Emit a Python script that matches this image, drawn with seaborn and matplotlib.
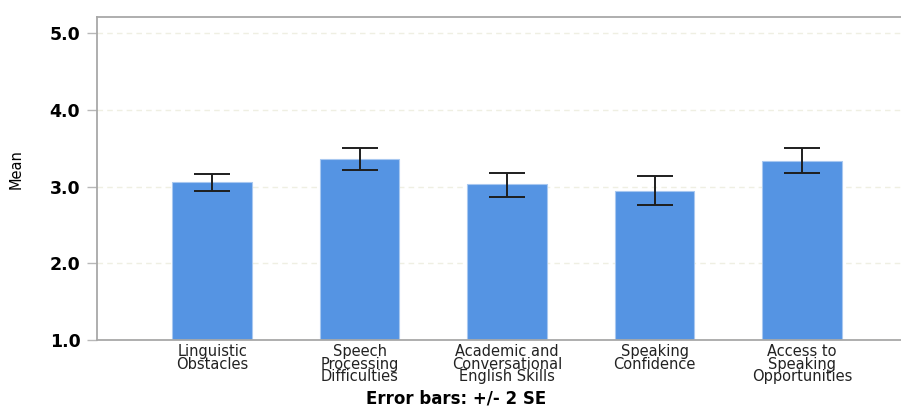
import numpy as np
import pandas as pd
import matplotlib
matplotlib.use("Agg")
import matplotlib.pyplot as plt
import seaborn as sns

# values
categories = ["Linguistic\nObstacles",
              "Speech\nProcessing\nDifficulties",
              "Academic and\nConversational\nEnglish Skills",
              "Speaking\nConfidence",
              "Access to\nSpeaking\nOpportunities"]
means = [3.06, 3.36, 3.03, 2.95, 3.34]
err_low = [2.95, 3.22, 2.87, 2.76, 3.18]
err_high = [3.17, 3.51, 3.18, 3.14, 3.50]

sns.set_style("white")
plt.rcParams["font.family"] = ["DejaVu Sans"]
plt.rcParams["text.color"] = "black"
plt.rcParams["axes.labelcolor"] = "black"

df = pd.DataFrame({"Scale": categories, "Mean": means})

fig = plt.figure(figsize=(9.01, 4.08), dpi=100)
ax = fig.add_axes([0.1077, 0.1667, 0.8923, 0.7916])

sns.barplot(data=df, x="Scale", y="Mean", color="#5594e3", width=0.54,
            saturation=1, edgecolor="#a8c8f0", linewidth=0.8, ax=ax, zorder=2)

# error bars: +/- 2 SE
m = np.array(means)
yerr = np.vstack([m - np.array(err_low), np.array(err_high) - m])
ax.errorbar(np.arange(len(categories)), m, yerr=yerr, fmt="none",
            ecolor="#1e1e1e", elinewidth=1.4, capsize=13, capthick=1.4, zorder=3)

ax.set_ylim(1.0, 5.215)
ax.set_xlim(-0.78, 4.67)
ax.set_yticks([1.0, 2.0, 3.0, 4.0, 5.0])
ax.set_yticklabels(["1.0", "2.0", "3.0", "4.0", "5.0"], fontsize=12.5,
                   fontweight="bold", color="black")
ax.yaxis.grid(True, linestyle=(0, (4, 3)), color="#efefe2", linewidth=1, zorder=0)
ax.set_axisbelow(True)

for side in ["left", "bottom", "top"]:
    ax.spines[side].set_color("#a8a8a8")
    ax.spines[side].set_linewidth(1.3)
ax.spines["right"].set_visible(False)

ax.tick_params(axis="y", length=7, width=1, color="#b8b8b8", pad=5, left=True)
ax.tick_params(axis="x", length=0, pad=3)
for lbl in ax.get_xticklabels():
    lbl.set_fontsize(10.5)
    lbl.set_linespacing(0.8)
    lbl.set_color("#222222")
    lbl.set_verticalalignment("top")

ax.set_xlabel("")
ax.set_ylabel("Mean", fontsize=10.5, color="black", labelpad=0)
ax.yaxis.set_label_coords(-0.091, 0.53)

fig.text(0.506, 0.01, "Error bars: +/- 2 SE", ha="center", va="baseline",
         fontsize=12, fontweight="bold")

fig.savefig("out.png", dpi=100)
